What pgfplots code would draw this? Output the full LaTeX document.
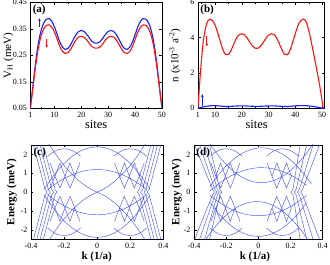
\documentclass[border=0pt]{standalone}
\usepackage{pgfplots}
\pgfplotsset{compat=1.18}
\usetikzlibrary{arrows.meta}
\usepackage{fontspec}
\setmainfont{Liberation Serif}
\definecolor{vblue}{RGB}{20,30,255}
\definecolor{vred}{RGB}{255,20,20}
\definecolor{bandc}{RGB}{55,70,245}
\pgfplotsset{
 myax/.style={scale only axis, anchor=south west, axis line style={line width=0.6pt},
   tick align=inside, tick pos=both, major tick length=2.5pt, minor tick length=1.5pt,
   tick style={line width=0.5pt, black},
   tick label style={font=\fontsize{8}{9}\selectfont},
   /pgf/number format/assume math mode=true},
 band/.style={color=bandc, line width=0.45pt, opacity=0.9},
 curve/.style={line width=1.1pt, smooth},
 arr/.style={line width=0.8pt, -{Stealth[length=3pt,width=2.6pt]}},
}
\begin{document}
\begin{tikzpicture}
\useasboundingbox (0,0) rectangle (330pt,265pt);
% ---------------- (a)
\begin{axis}[myax, at={(30.3pt,156.7pt)}, width=131.7pt, height=106pt,
  xmin=1, xmax=50, ymin=0.05, ymax=0.45,
  xtick={1,10,20,30,40,50}, minor xtick={5,15,25,35,45},
  ytick={0.05,0.15,0.25,0.35,0.45},
  yticklabel style={/pgf/number format/.cd, fixed, fixed zerofill, precision=2},
  xlabel={sites}, ylabel={V\textsubscript{H} (meV)},
  xlabel style={at={(axis description cs:0.5,-0.15)}, anchor=center, font=\fontsize{12.5}{13}\selectfont},
  ylabel style={at={(axis description cs:-0.166,0.5)}, anchor=center, font=\fontsize{11}{12}\selectfont}]
\addplot[vblue, curve] coordinates {(1,0.05)(2,0.135)(3,0.225)(4,0.295)(5,0.343)(6,0.372)(7,0.386)(8,0.389)(9,0.378)(10,0.357)(11,0.328)(12,0.3)(13,0.281)(14,0.272)(15,0.276)(16,0.29)(17,0.31)(18,0.328)(19,0.34)(20,0.344)(21,0.34)(22,0.329)(23,0.315)(24,0.302)(25,0.296)(26,0.296)(27,0.302)(28,0.315)(29,0.329)(30,0.34)(31,0.344)(32,0.34)(33,0.328)(34,0.31)(35,0.29)(36,0.276)(37,0.272)(38,0.281)(39,0.3)(40,0.328)(41,0.357)(42,0.378)(43,0.389)(44,0.386)(45,0.372)(46,0.343)(47,0.295)(48,0.225)(49,0.135)(50,0.05)};
\addplot[vred, curve] coordinates {(1,0.05)(2,0.13)(3,0.212)(4,0.278)(5,0.323)(6,0.35)(7,0.363)(8,0.365)(9,0.356)(10,0.337)(11,0.31)(12,0.283)(13,0.265)(14,0.257)(15,0.26)(16,0.273)(17,0.291)(18,0.308)(19,0.319)(20,0.322)(21,0.318)(22,0.308)(23,0.294)(24,0.282)(25,0.277)(26,0.277)(27,0.282)(28,0.294)(29,0.308)(30,0.318)(31,0.322)(32,0.319)(33,0.308)(34,0.291)(35,0.273)(36,0.26)(37,0.257)(38,0.265)(39,0.283)(40,0.31)(41,0.337)(42,0.356)(43,0.365)(44,0.363)(45,0.35)(46,0.323)(47,0.278)(48,0.212)(49,0.13)(50,0.05)};
\addplot[vblue, arr] coordinates {(4.4,0.355)(4.4,0.39)};
\addplot[vred, arr] coordinates {(7.1,0.312)(7.1,0.278)};
\node[anchor=north west, inner sep=1pt, font=\bfseries\fontsize{11}{12}\selectfont] at (rel axis cs:0.01,0.985) {(a)};
\end{axis}
% ---------------- (b)
\begin{axis}[myax, at={(198pt,156.7pt)}, width=126.3pt, height=106pt,
  xmin=3.6, xmax=50.8, ymin=0, ymax=6,
  xtick={3.6,10,20,30,40,50}, xticklabels={1,10,20,30,40,50}, minor xtick={5,15,25,35,45},
  ytick={0,2,4,6},
  xlabel={sites}, ylabel={n (x10\textsuperscript{-3} a\textsuperscript{-2})},
  xlabel style={at={(axis description cs:0.465,-0.15)}, anchor=center, font=\fontsize{12.5}{13}\selectfont},
  ylabel style={at={(axis description cs:-0.182,0.5)}, anchor=center, font=\fontsize{11}{12}\selectfont}]
\addplot[vred, curve] coordinates {(3.6,0)(4.5,2.0)(5.5,3.7)(6.5,4.6)(7.3,4.95)(8,5.05)(9,4.96)(10,4.7)(11,4.25)(12,3.75)(13,3.28)(14,3.03)(15,3.05)(16,3.3)(17,3.65)(18,3.98)(19,4.17)(20,4.22)(21,4.15)(22,3.97)(23,3.73)(24,3.52)(25,3.4)(26,3.4)(27,3.52)(28,3.73)(29,3.97)(30,4.15)(31,4.22)(32,4.17)(33,3.98)(34,3.65)(35,3.3)(36,3.05)(37,3.03)(38,3.28)(39,3.75)(40,4.25)(41,4.7)(42,4.96)(43,5.05)(44,4.9)(45,4.4)(46,3.7)(47,2.95)(48,2.15)(49,1.35)(50.4,0)};
\addplot[vblue, curve] coordinates {(3.6,0)(5,0.06)(7,0.12)(9,0.15)(11,0.14)(14,0.1)(17,0.12)(20,0.14)(23,0.12)(25.5,0.11)(28,0.12)(31,0.14)(34,0.12)(37,0.1)(40,0.14)(42,0.15)(44,0.15)(46,0.12)(48,0.07)(50.4,0)};
\addplot[vblue, arr] coordinates {(5.2,0.12)(5.2,0.8)};
\addplot[vred, arr] coordinates {(6.9,4.1)(6.9,3.5)};
\node[anchor=north west, inner sep=1pt, font=\bfseries\fontsize{11}{12}\selectfont] at (rel axis cs:0.01,0.985) {(b)};
\end{axis}
% ---------------- (c)
\begin{axis}[myax, at={(31pt,25.7pt)}, width=132.3pt, height=94.3pt,
  xmin=-0.4, xmax=0.4, ymin=-2.5, ymax=2.5,
  xtick={-0.4,-0.2,0,0.2,0.4}, ytick={-2,-1,0,1,2},
  xlabel={k (1/a)}, ylabel={Energy (meV)},
  xlabel style={at={(axis description cs:0.497,-0.185)}, anchor=center, font=\bfseries\fontsize{11}{12}\selectfont},
  ylabel style={at={(axis description cs:-0.146,0.5)}, anchor=center, font=\bfseries\fontsize{11}{12}\selectfont},
  unbounded coords=jump]
\addplot[band] coordinates {
(0.325,2.5)(0.255,0.15)(0.243,0)(0.255,-0.15)(0.325,-2.5)(0.3,nan)
(0.345,2.5)(0.275,0.15)(0.263,0)(0.275,-0.15)(0.345,-2.5)(0.3,nan)
(0.365,2.5)(0.295,0.15)(0.283,0)(0.295,-0.15)(0.365,-2.5)(0.3,nan)
(0.385,2.5)(0.315,0.15)(0.303,0)(0.315,-0.15)(0.385,-2.5)(0.3,nan)
(-0.325,2.5)(-0.255,0.15)(-0.243,0)(-0.255,-0.15)(-0.325,-2.5)(0.3,nan)
(-0.345,2.5)(-0.275,0.15)(-0.263,0)(-0.275,-0.15)(-0.345,-2.5)(0.3,nan)
(-0.365,2.5)(-0.295,0.15)(-0.283,0)(-0.295,-0.15)(-0.365,-2.5)(0.3,nan)
(-0.385,2.5)(-0.315,0.15)(-0.303,0)(-0.315,-0.15)(-0.385,-2.5)(0.3,nan)
(0.135,0.84)(0.164,0.22)(0.195,0.84)(0.225,0.22)(0.255,0.84)(0.285,0.22)(0.3,nan)
(-0.135,0.84)(-0.164,0.22)(-0.195,0.84)(-0.225,0.22)(-0.255,0.84)(-0.285,0.22)(0.3,nan)
(0.135,-0.84)(0.164,-0.22)(0.195,-0.84)(0.225,-0.22)(0.255,-0.84)(0.285,-0.22)(0.3,nan)
(-0.135,-0.84)(-0.164,-0.22)(-0.195,-0.84)(-0.225,-0.22)(-0.255,-0.84)(-0.285,-0.22)(0.3,nan)
(0.105,1.55)(0.135,0.84)(0.165,1.55)(0.195,0.84)(0.225,1.55)(0.255,0.84)(0.285,1.55)(0.3,nan)
(-0.105,1.55)(-0.135,0.84)(-0.165,1.55)(-0.195,0.84)(-0.225,1.55)(-0.255,0.84)(-0.285,1.55)(0.3,nan)
(0.105,-1.55)(0.135,-0.84)(0.165,-1.55)(0.195,-0.84)(0.225,-1.55)(0.255,-0.84)(0.285,-1.55)(0.3,nan)
(-0.105,-1.55)(-0.135,-0.84)(-0.165,-1.55)(-0.195,-0.84)(-0.225,-1.55)(-0.255,-0.84)(-0.285,-1.55)
};
\addplot[band, smooth] coordinates {(0,0)(0.05,0.22)(0.1,0.53)(0.15,0.93)(0.2,1.42)(0.25,2.0)(0.3,2.67)};
\addplot[band, smooth] coordinates {(0,0)(-0.05,0.22)(-0.1,0.53)(-0.15,0.93)(-0.2,1.42)(-0.25,2.0)(-0.3,2.67)};
\addplot[band, smooth] coordinates {(0,0)(0.05,-0.22)(0.1,-0.53)(0.15,-0.93)(0.2,-1.42)(0.25,-2.0)(0.3,-2.67)};
\addplot[band, smooth] coordinates {(0,0)(-0.05,-0.22)(-0.1,-0.53)(-0.15,-0.93)(-0.2,-1.42)(-0.25,-2.0)(-0.3,-2.67)};
\addplot[band, smooth] coordinates {(-0.3,0.12)(-0.25,0.45)(-0.2,0.72)(-0.15,0.93)(-0.1,1.08)(-0.05,1.17)(0,1.2)(0.05,1.17)(0.1,1.08)(0.15,0.93)(0.2,0.72)(0.25,0.45)(0.3,0.12)};
\addplot[band, smooth] coordinates {(-0.3,-0.12)(-0.25,-0.45)(-0.2,-0.72)(-0.15,-0.93)(-0.1,-1.08)(-0.05,-1.17)(0,-1.2)(0.05,-1.17)(0.1,-1.08)(0.15,-0.93)(0.2,-0.72)(0.25,-0.45)(0.3,-0.12)};
\addplot[band, smooth] coordinates {(-0.32,0.15)(-0.3,0.42)(-0.25,1.025)(-0.2,1.52)(-0.15,1.905)(-0.1,2.18)(-0.05,2.345)(0,2.4)(0.05,2.345)(0.1,2.18)(0.15,1.905)(0.2,1.52)(0.25,1.025)(0.3,0.42)(0.32,0.15)};
\addplot[band, smooth] coordinates {(-0.32,-0.15)(-0.3,-0.42)(-0.25,-1.025)(-0.2,-1.52)(-0.15,-1.905)(-0.1,-2.18)(-0.05,-2.345)(0,-2.4)(0.05,-2.345)(0.1,-2.18)(0.15,-1.905)(0.2,-1.52)(0.25,-1.025)(0.3,-0.42)(0.32,-0.15)};
\addplot[band, smooth] coordinates {(0.1,1.9)(0.13,2.1)(0.16,2.24)(0.2,2.3)(0.24,2.24)(0.27,2.1)(0.3,1.9)};
\addplot[band, smooth] coordinates {(-0.1,1.9)(-0.13,2.1)(-0.16,2.24)(-0.2,2.3)(-0.24,2.24)(-0.27,2.1)(-0.3,1.9)};
\addplot[band, smooth] coordinates {(0.1,-1.9)(0.13,-2.1)(0.16,-2.24)(0.2,-2.3)(0.24,-2.24)(0.27,-2.1)(0.3,-1.9)};
\addplot[band, smooth] coordinates {(-0.1,-1.9)(-0.13,-2.1)(-0.16,-2.24)(-0.2,-2.3)(-0.24,-2.24)(-0.27,-2.1)(-0.3,-1.9)};
\node[anchor=north west, inner sep=1pt, font=\bfseries\fontsize{11}{12}\selectfont] at (rel axis cs:0.01,0.985) {(c)};
\end{axis}
% ---------------- (d)
\begin{axis}[myax, at={(194pt,25.7pt)}, width=128.7pt, height=94.3pt,
  xmin=-0.4, xmax=0.4, ymin=-2.5, ymax=2.5,
  xtick={-0.4,-0.2,0,0.2,0.4}, ytick={-2,-1,0,1,2},
  xlabel={k (1/a)}, ylabel={Energy (meV)},
  xlabel style={at={(axis description cs:0.474,-0.185)}, anchor=center, font=\bfseries\fontsize{11}{12}\selectfont},
  ylabel style={at={(axis description cs:-0.134,0.5)}, anchor=center, font=\bfseries\fontsize{11}{12}\selectfont},
  unbounded coords=jump]
\addplot[band] coordinates {
(-0.396,2.5)(-0.285,0.15)(-0.273,0)(-0.285,-0.15)(-0.396,-2.5)(0.3,nan)
(-0.365,2.5)(-0.27,0.15)(-0.258,0)(-0.27,-0.15)(-0.365,-2.5)(0.3,nan)
(-0.334,2.5)(-0.255,0.15)(-0.243,0)(-0.255,-0.15)(-0.334,-2.5)(0.3,nan)
(-0.303,2.5)(-0.24,0.15)(-0.228,0)(-0.24,-0.15)(-0.303,-2.5)(0.3,nan)
(0.26,2.5)(0.215,0.15)(0.203,0)(0.215,-0.15)(0.26,-2.5)(0.3,nan)
(0.3,2.5)(0.235,0.15)(0.223,0)(0.235,-0.15)(0.3,-2.5)(0.3,nan)
(0.34,2.5)(0.255,0.15)(0.243,0)(0.255,-0.15)(0.34,-2.5)(0.3,nan)
(0.38,2.5)(0.275,0.15)(0.263,0)(0.275,-0.15)(0.38,-2.5)(0.3,nan)
(-0.145,0.84)(-0.174,0.22)(-0.205,0.84)(-0.235,0.22)(-0.265,0.84)(0.3,nan)
(-0.145,-0.84)(-0.174,-0.22)(-0.205,-0.84)(-0.235,-0.22)(-0.265,-0.84)(0.3,nan)
(-0.115,1.55)(-0.145,0.84)(-0.175,1.55)(-0.205,0.84)(-0.235,1.55)(-0.265,0.84)(-0.295,1.55)(0.3,nan)
(-0.115,-1.55)(-0.145,-0.84)(-0.175,-1.55)(-0.205,-0.84)(-0.235,-1.55)(-0.265,-0.84)(-0.295,-1.55)(0.3,nan)
(0.085,0.84)(0.114,0.22)(0.145,0.84)(0.175,0.22)(0.205,0.84)(0.3,nan)
(0.085,-0.84)(0.114,-0.22)(0.145,-0.84)(0.175,-0.22)(0.205,-0.84)(0.3,nan)
(0.055,1.55)(0.085,0.84)(0.115,1.55)(0.145,0.84)(0.175,1.55)(0.205,0.84)(0.3,nan)
(0.055,-1.55)(0.085,-0.84)(0.115,-1.55)(0.145,-0.84)(0.175,-1.55)(0.205,-0.84)
};
\addplot[band, smooth] coordinates {(-0.35,3.238)(-0.3,2.548)(-0.25,1.958)(-0.2,1.468)(-0.15,1.078)(-0.1,0.788)(-0.05,0.598)(0,0.508)(0.05,0.518)(0.1,0.628)(0.15,0.838)(0.2,1.148)(0.25,1.558)(0.3,2.068)(0.35,2.678)};
\addplot[band, smooth] coordinates {(-0.35,-2.812)(-0.3,-2.182)(-0.25,-1.652)(-0.2,-1.222)(-0.15,-0.892)(-0.1,-0.662)(-0.05,-0.532)(0,-0.502)(0.05,-0.572)(0.1,-0.742)(0.15,-1.012)(0.2,-1.382)(0.25,-1.852)(0.3,-2.422)(0.35,-3.092)};
\addplot[band, smooth] coordinates {(-0.3,0.071)(-0.25,0.425)(-0.2,0.719)(-0.15,0.953)(-0.1,1.127)(-0.05,1.241)(0,1.295)(0.05,1.289)(0.1,1.223)(0.15,1.097)(0.2,0.911)(0.25,0.665)(0.3,0.359)};
\addplot[band, smooth] coordinates {(-0.3,-0.17)(-0.25,-0.5)(-0.2,-0.77)(-0.15,-0.98)(-0.1,-1.13)(-0.05,-1.22)(0,-1.25)(0.05,-1.22)(0.1,-1.13)(0.15,-0.98)(0.2,-0.77)(0.25,-0.5)(0.3,-0.17)};
\addplot[band, smooth] coordinates {(-0.3,0.302)(-0.25,0.892)(-0.2,1.382)(-0.15,1.772)(-0.1,2.062)(-0.05,2.252)(0,2.342)(0.05,2.332)(0.1,2.222)(0.15,2.012)(0.2,1.702)(0.25,1.292)(0.3,0.782)(0.33,0.428)};
\addplot[band, smooth] coordinates {(-0.3,-0.55)(-0.25,-1.1)(-0.2,-1.55)(-0.15,-1.9)(-0.1,-2.15)(-0.05,-2.3)(0,-2.35)(0.05,-2.3)(0.1,-2.15)(0.15,-1.9)(0.2,-1.55)(0.25,-1.1)(0.3,-0.55)};
\addplot[band, smooth] coordinates {(0.05,1.9)(0.08,2.1)(0.11,2.24)(0.15,2.3)(0.19,2.24)(0.22,2.1)(0.25,1.9)};
\addplot[band, smooth] coordinates {(-0.1,1.9)(-0.13,2.1)(-0.16,2.24)(-0.2,2.3)(-0.24,2.24)(-0.27,2.1)(-0.3,1.9)};
\addplot[band, smooth] coordinates {(0.05,-1.9)(0.08,-2.1)(0.11,-2.24)(0.15,-2.3)(0.19,-2.24)(0.22,-2.1)(0.25,-1.9)};
\addplot[band, smooth] coordinates {(-0.1,-1.9)(-0.13,-2.1)(-0.16,-2.24)(-0.2,-2.3)(-0.24,-2.24)(-0.27,-2.1)(-0.3,-1.9)};
\node[anchor=north west, inner sep=1pt, font=\bfseries\fontsize{11}{12}\selectfont] at (rel axis cs:0.01,0.985) {(d)};
\end{axis}
\end{tikzpicture}
\end{document}
